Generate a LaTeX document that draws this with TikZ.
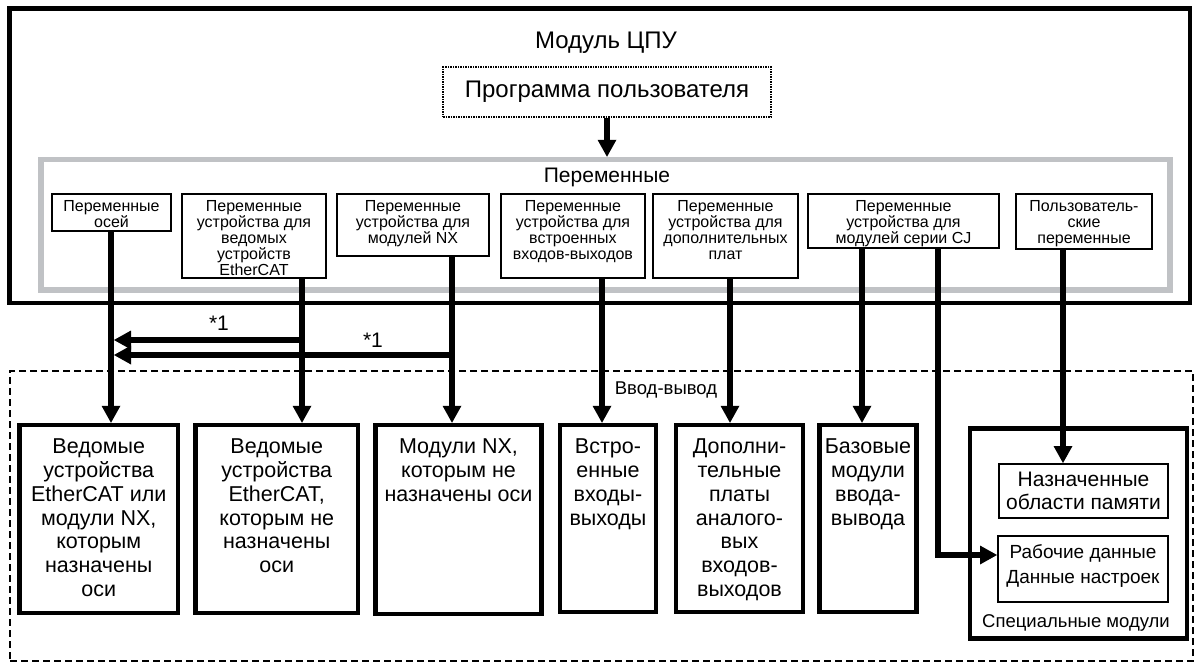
\documentclass[tikz,border=0pt]{standalone}
\usepackage{fontspec}
\setmainfont{Liberation Sans}
\usetikzlibrary{arrows.meta}
\definecolor{framegray}{RGB}{192,194,197}
\tikzset{
  sized/.style 2 args={minimum width=#1pt, minimum height=#2pt, inner sep=0pt},
  cpubox/.style={draw, line width=4.5pt},
  varsframe/.style={draw=framegray, line width=5.5pt},
  progbox/.style={draw, line width=1.5pt, dash pattern=on 1.5pt off 1pt},
  iobox/.style={draw, line width=1.5pt, dash pattern=on 7pt off 4pt},
  varbox/.style={draw, line width=1.5pt},
  unitbox/.style={draw, line width=4.5pt},
  areabox/.style={draw, line width=2pt},
  vartext/.style={font=\fontsize{16}{16}\selectfont, align=center, inner sep=0pt, anchor=north},
  unittext/.style={font=\fontsize{21.5}{23.8}\selectfont, align=center, inner sep=0pt, anchor=north},
  bigtext/.style={font=\fontsize{24}{28}\selectfont, anchor=base, inner sep=0pt},
  midtext/.style={font=\fontsize{21}{24}\selectfont, anchor=base, inner sep=0pt},
  smalltext/.style={font=\fontsize{18.5}{22}\selectfont, anchor=base, inner sep=0pt},
  link/.style={line width=6.5pt, line join=miter,
    -{Triangle[length=17pt,width=19pt,line width=0pt]}},
}
\begin{document}
\begin{tikzpicture}[x=1pt,y=-1pt]
\useasboundingbox (0,0) rectangle (1195,664);

% CPU unit with the user program
\node[cpubox, sized={1180.5}{294.5}] (cpu) at (599.75,155.75) {};
\node[bigtext] (cputitle) at (606,48) {Модуль ЦПУ};
\node[progbox, sized={328}{50}] (prog) at (607,92) {};
\node[bigtext] (progtext) at (607,97) {Программа пользователя};

% variables frame
\node[varsframe, sized={1129}{130.5}] (vars) at (605.5,224.75) {};
\node[midtext] (varstitle) at (607,182) {Переменные};

% variable groups
\node[varbox, sized={119}{37}] (v1) at (111.5,212.5) {};
\node[varbox, sized={144}{84}] (v2) at (254,236) {};
\node[varbox, sized={152}{62}] (v3) at (413,225) {};
\node[varbox, sized={144}{84}] (v4) at (573,236) {};
\node[varbox, sized={145}{84}] (v5) at (725.5,236) {};
\node[varbox, sized={191}{54}] (v6) at (903.5,221) {};
\node[varbox, sized={136}{55}] (v7) at (1084,221.5) {};
\node[vartext] (v1t) at ([yshift=-7pt]v1.north) {Переменные\\осей};
\node[vartext] (v2t) at ([yshift=-7pt]v2.north) {Переменные\\устройства для\\ведомых\\устройств\\EtherCAT};
\node[vartext] (v3t) at ([yshift=-7pt]v3.north) {Переменные\\устройства для\\модулей NX};
\node[vartext] (v4t) at ([yshift=-7pt]v4.north) {Переменные\\устройства для\\встроенных\\входов-выходов};
\node[vartext] (v5t) at ([yshift=-7pt]v5.north) {Переменные\\устройства для\\дополнительных\\плат};
\node[vartext] (v6t) at ([yshift=-7pt]v6.north) {Переменные\\устройства для\\модулей серии CJ};
\node[vartext] (v7t) at ([yshift=-7pt]v7.north) {Пользователь-\\ские\\переменные};

% input/output area
\node[iobox, sized={1183}{290}] (io) at (601.5,516) {};
\node[smalltext] (iotitle) at (666,394) {Ввод-вывод};

\node[unitbox, sized={158.5}{188}] (b1) at (98.75,519) {};
\node[unitbox, sized={162.5}{188}] (b2) at (276.75,519) {};
\node[unitbox, sized={166}{189}] (b3) at (458.5,519.5) {};
\node[unitbox, sized={96}{187}] (b4) at (608,518.5) {};
\node[unitbox, sized={127}{187}] (b5) at (739.5,518.5) {};
\node[unitbox, sized={97}{187}] (b6) at (868,518.5) {};
\node[unittext] (b1t) at ([yshift=-15.9pt]b1.north) {Ведомые\\устройства\\EtherCAT или\\модули NX,\\которым\\назначены\\оси};
\node[unittext] (b2t) at ([yshift=-15.9pt]b2.north) {Ведомые\\устройства\\EtherCAT,\\которым не\\назначены\\оси};
\node[unittext] (b3t) at ([yshift=-15.9pt]b3.north) {Модули NX,\\которым не\\назначены оси};
\node[unittext] (b4t) at ([yshift=-15.9pt]b4.north) {Встро-\\енные\\входы-\\выходы};
\node[unittext] (b5t) at ([yshift=-15.9pt]b5.north) {Дополни-\\тельные\\платы\\аналого-\\вых\\входов-\\выходов};
\node[unittext] (b6t) at ([yshift=-15.9pt]b6.north) {Базовые\\модули\\ввода-\\вывода};

% special units
\node[unitbox, sized={217}{210}] (sp) at (1078.5,533.5) {};
\node[areabox, sized={169}{54}] (n1) at (1083.5,491) {};
\node[areabox, sized={170}{66}] (n2) at (1083,569) {};
\node[font=\fontsize{21}{23.3}\selectfont, align=center, inner sep=0pt, anchor=north] (n1t) at ([yshift=-9pt]n1.north) {Назначенные\\области памяти};
\node[font=\fontsize{19}{25}\selectfont, align=center, inner sep=0pt, anchor=north] (n2t) at ([yshift=-9.4pt]n2.north) {Рабочие данные\\Данные настроек};
\node[smalltext] (sptitle) at (1076,627) {Специальные модули};

% connectors
\draw[link] (prog.south) -- (prog.south |- vars.north);
\draw[link] (111,0 |- v1.south) -- (111,0 |- b1.north);
\draw[link] (302,0 |- v2.south) -- (302,0 |- b2.north);
\draw[link] (452,0 |- v3.south) -- (452,0 |- b3.north);
\draw[link] (602,0 |- v4.south) -- (602,0 |- b4.north);
\draw[link] (730,0 |- v5.south) -- (730,0 |- b5.north);
\draw[link] (862,0 |- v6.south) -- (862,0 |- b6.north);
\draw[link] (938,0 |- v6.south) |- ([yshift=14pt]n2.west);
\draw[link] (1063,0 |- v7.south) -- (1063,0 |- n1.north);

% axis assignment links
\coordinate (ax1) at (114,340);
\coordinate (ax2) at (114,355);
\coordinate (ec) at (302,340);
\coordinate (nx) at (452,355);
\draw[link] (ec) -- (ax1);
\draw[link] (nx) -- (ax2);
\node[midtext] (note1) at (219,330) {*1};
\node[midtext] (note2) at (373,347) {*1};
\end{tikzpicture}
\end{document}
